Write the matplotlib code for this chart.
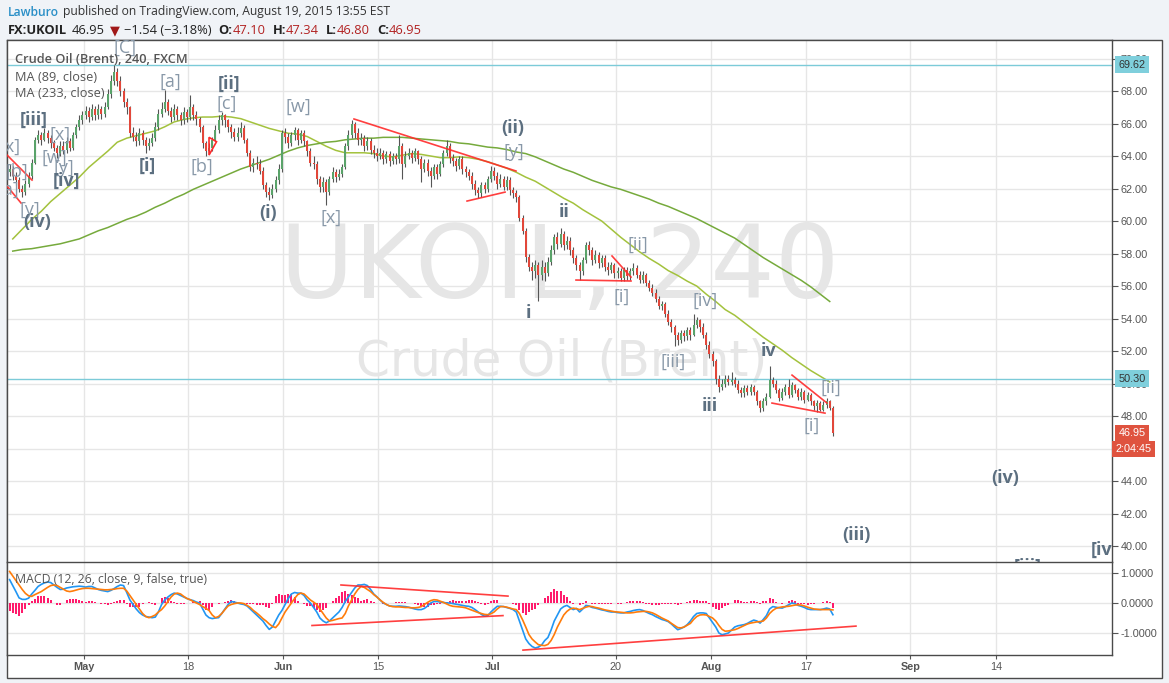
import matplotlib
matplotlib.use("Agg")
import matplotlib.pyplot as plt
import matplotlib.transforms as mtransforms
from matplotlib.patches import Rectangle, Polygon
import numpy as np
import pandas as pd

# ---- data (4h-ish candles, 3 per trading day) ----
first_day = "2015-04-21"
last_day = "2015-08-19"
bars_per_day = 3
first_open = 63.0

bar_close = [
    63.2, 62.8, 62.5, 62.0, 61.8, 62.3, 62.8, 63.6, 65.0, 65.3, 65.0, 65.4,
    65.1, 64.8, 64.5, 64.2, 64.6, 64.4, 64.9, 64.5, 65.3, 65.8, 66.2, 66.5, 66.8, 66.4, 66.9,
    66.5, 66.9, 66.6, 67.0, 67.8, 68.6, 69.2, 68.6, 68.0, 67.3, 67.0, 65.4, 65.2, 64.9, 65.4,
    65.0, 64.6, 64.8, 65.1, 65.8, 66.6, 66.9, 67.3, 66.8, 66.4, 66.9, 66.5, 66.2, 66.7, 66.4,
    67.0, 66.5, 66.3, 65.8, 64.8, 64.3, 64.5, 65.0, 65.6, 66.2, 66.5, 66.2, 65.8, 65.5, 65.2,
    65.4, 65.7, 65.0, 64.2, 63.3, 63.6, 63.5, 63.1, 62.2, 61.8, 61.6, 62.0, 62.5, 63.2, 65.4,
    65.2, 64.8, 65.3, 65.6, 65.0, 65.4, 64.9, 64.3, 63.6, 63.5, 62.6, 62.1, 62.4, 61.8, 62.6,
    63.0, 62.7, 62.9, 63.3, 64.6, 65.3, 66.0, 65.4, 65.0, 65.1, 64.6, 64.9, 64.4, 64.2, 64.0,
    64.2, 63.8, 64.1, 63.7, 64.0, 63.8, 64.6, 63.5, 64.0, 64.2, 63.9, 64.3, 63.8, 63.2, 63.6,
    63.1, 62.8, 63.3, 62.9, 63.5, 64.2, 64.6, 63.9, 63.7, 63.4, 63.8, 63.2, 63.0, 62.8, 62.3,
    61.9, 61.7, 62.2, 62.0, 62.6, 63.1, 62.8, 62.3, 62.6, 62.1, 62.5, 61.9, 61.7, 61.5, 60.2,
    59.4, 57.8, 57.2, 56.9, 57.3, 56.7, 57.2, 56.8, 57.5, 58.2, 59.0, 58.6, 59.2, 58.5, 58.8,
    58.2, 57.7, 57.3, 56.9, 57.6, 58.5, 58.2, 57.6, 57.9, 57.4, 57.7, 57.2, 57.0, 57.3, 56.8,
    56.9, 56.5, 57.0, 56.6, 56.9, 57.1, 56.7, 56.4, 56.7, 56.2, 55.9, 55.6, 55.2, 54.8, 54.9,
    54.3, 53.8, 53.5, 53.0, 52.7, 53.1, 52.9, 53.3, 53.0, 53.6, 53.9, 53.5, 53.0, 52.4, 51.8,
    51.4, 50.3, 49.8, 50.0, 50.3, 50.1, 50.2, 50.0, 49.6, 49.4, 49.7, 49.5, 49.8, 49.5, 48.9,
    48.5, 48.9, 49.2, 50.2, 50.0, 49.6, 49.1, 49.5, 49.8, 49.3, 49.9, 49.6, 49.2, 49.5, 49.0,
    49.3, 48.9, 48.6, 48.8, 48.4, 48.7, 48.9, 48.49, 46.95,
]
bar_high = [
    63.5, 63.4, 63.0, 62.7, 62.2, 62.5, 63.0, 63.8, 65.2, 65.6, 65.5, 65.7,
    65.6, 65.3, 65.0, 64.7, 64.9, 64.9, 65.2, 65.1, 65.5, 66.0, 66.5, 66.8, 67.1, 67.0, 67.2,
    67.1, 67.2, 67.1, 67.3, 68.1, 69.0, 69.6, 69.4, 68.9, 68.2, 67.6, 67.1, 65.8, 65.5, 65.7,
    65.6, 65.2, 65.1, 65.4, 66.1, 66.9, 67.3, 68.05, 67.5, 67.0, 67.2, 67.1, 66.7, 67.0, 66.9,
    67.75, 67.2, 66.8, 66.4, 65.9, 64.9, 64.8, 65.2, 65.9, 66.5, 66.7, 66.6, 66.3, 66.0, 65.7,
    65.8, 66.1, 65.9, 65.1, 64.4, 63.9, 64.0, 63.8, 63.3, 62.4, 62.1, 62.3, 62.8, 63.5, 65.6,
    65.7, 65.4, 65.5, 65.8, 65.7, 65.6, 65.6, 65.0, 64.5, 64.0, 63.7, 62.8, 62.7, 62.6, 62.8,
    63.3, 63.2, 63.2, 63.5, 64.8, 65.6, 66.2, 66.1, 65.7, 65.4, 65.3, 65.2, 65.1, 64.7, 64.5,
    64.5, 64.4, 64.3, 64.3, 64.2, 64.2, 65.3, 64.8, 64.3, 64.5, 64.4, 64.5, 64.4, 64.0, 63.8,
    63.8, 63.3, 63.5, 63.5, 63.7, 64.4, 65.0, 64.8, 64.1, 63.9, 64.0, 64.0, 63.4, 63.2, 63.0,
    62.5, 62.1, 62.4, 62.4, 62.8, 63.4, 63.3, 63.0, 62.9, 62.8, 62.8, 62.7, 62.1, 61.9, 61.6,
    60.4, 59.6, 58.0, 57.5, 57.6, 57.5, 57.6, 57.5, 57.8, 58.5, 59.2, 59.3, 59.6, 59.4, 59.1,
    59.0, 58.4, 57.9, 57.5, 57.8, 58.7, 58.8, 58.4, 58.2, 58.1, 57.9, 57.9, 57.5, 57.5, 57.4,
    57.2, 57.1, 57.2, 57.2, 57.1, 57.4, 57.3, 56.9, 56.9, 56.8, 56.4, 56.1, 55.8, 55.4, 55.1,
    55.0, 54.5, 54.0, 53.6, 53.2, 53.3, 53.3, 53.5, 53.5, 54.3, 54.1, 54.0, 53.7, 53.2, 52.6,
    52.0, 51.5, 50.5, 50.3, 50.5, 50.5, 50.7, 50.4, 50.2, 49.8, 49.9, 49.9, 50.0, 49.9, 49.6,
    49.0, 49.1, 49.4, 51.1, 50.4, 50.2, 49.7, 49.7, 50.0, 50.3, 50.1, 50.0, 49.7, 49.7, 49.6,
    49.5, 49.4, 49.0, 49.0, 48.9, 48.9, 49.1, 49.0, 48.6,
]
bar_low = [
    62.8, 62.5, 62.2, 61.8, 61.5, 61.6, 62.1, 62.6, 63.5, 64.8, 64.7, 64.9,
    64.8, 64.5, 64.3, 63.9, 64.0, 64.1, 64.2, 64.3, 64.4, 65.1, 65.6, 66.0, 66.3, 66.1, 66.2,
    66.2, 66.3, 66.3, 66.4, 66.9, 67.6, 68.4, 68.3, 67.7, 67.0, 66.6, 65.2, 64.9, 64.6, 64.7,
    64.7, 64.2, 64.4, 64.6, 64.9, 65.6, 66.4, 66.7, 66.5, 66.1, 66.2, 66.2, 65.9, 66.0, 66.1,
    66.2, 66.2, 65.9, 65.5, 64.5, 64.0, 64.1, 64.3, 64.9, 65.4, 65.9, 65.8, 65.5, 65.1, 64.9,
    64.9, 65.2, 64.8, 64.0, 63.1, 63.0, 63.2, 62.9, 62.0, 61.5, 61.3, 61.4, 61.8, 62.3, 63.0,
    64.8, 64.5, 64.6, 65.0, 64.7, 64.8, 64.6, 64.0, 63.4, 63.2, 62.3, 61.8, 61.8, 61.0, 61.6,
    62.4, 62.4, 62.5, 62.7, 63.2, 64.4, 65.1, 65.1, 64.7, 64.7, 64.3, 64.4, 64.1, 63.9, 63.7,
    63.8, 63.5, 63.6, 63.4, 63.5, 63.5, 63.6, 62.6, 63.3, 63.8, 63.6, 63.7, 63.5, 62.4, 63.0,
    62.8, 62.1, 62.6, 62.6, 62.8, 63.3, 64.0, 63.6, 63.4, 63.1, 63.2, 62.9, 62.7, 62.5, 62.0,
    61.6, 61.4, 61.5, 61.7, 61.8, 62.4, 62.5, 62.0, 62.1, 61.9, 61.9, 61.6, 61.4, 61.2, 60.0,
    59.2, 57.5, 56.9, 56.4, 56.5, 55.1, 56.4, 56.3, 56.6, 57.3, 58.0, 58.3, 58.4, 58.2, 58.3,
    57.9, 57.4, 57.0, 56.4, 56.7, 57.4, 57.9, 57.3, 57.4, 57.1, 57.2, 56.9, 56.7, 56.8, 56.5,
    56.5, 56.3, 56.3, 56.4, 56.4, 56.7, 56.5, 56.2, 56.2, 56.0, 55.7, 55.4, 55.0, 54.6, 54.5,
    54.1, 53.6, 53.2, 52.3, 52.4, 52.5, 52.6, 52.7, 52.7, 52.9, 53.4, 53.2, 52.8, 52.1, 51.6,
    51.1, 50.0, 49.5, 49.6, 49.8, 49.9, 49.9, 49.8, 49.4, 49.2, 49.2, 49.3, 49.3, 49.3, 48.7,
    48.25, 48.3, 48.7, 49.1, 49.8, 49.4, 48.9, 49.0, 49.3, 49.1, 49.2, 49.4, 49.0, 49.0, 48.8,
    48.9, 48.7, 48.4, 48.25, 48.3, 48.3, 48.5, 48.4, 46.8,
]

# moving averages, one reading per trading day
ma89 = [
    58.9, 59.5, 60.1, 60.6,
    61.2, 61.7, 62.2, 62.7, 63.3, 63.8, 64.3, 64.85, 65.1, 65.25,
    65.4, 65.55, 65.8, 66.1, 66.25, 66.35, 66.4, 66.4, 66.45, 66.4,
    66.3, 66.1, 65.9, 65.7, 65.55, 65.4, 65.35, 65.2, 64.9, 64.6,
    64.35, 64.2, 64.2, 64.2, 64.15, 64.0, 63.95, 64.05, 64.15, 64.1,
    64.0, 63.9, 63.9, 63.95, 63.9, 63.8, 63.65, 63.45, 63.25, 63.0,
    62.7, 62.45, 62.1, 61.75, 61.4, 61.1, 60.7, 60.35, 60.0, 59.5,
    59.0, 58.55, 58.1, 57.7, 57.35, 56.95, 56.65, 56.3, 56.0, 55.5,
    55.05, 54.55, 54.2, 53.75, 53.3, 52.85, 52.45, 52.05, 51.6, 51.2,
    50.8, 50.45, 50.1,
]
ma233 = [
    58.15, 58.25, 58.3, 58.4,
    58.5, 58.6, 58.75, 58.9, 59.15, 59.4, 59.6, 59.85, 60.1, 60.3,
    60.55, 60.85, 61.1, 61.4, 61.65, 61.95, 62.2, 62.45, 62.7, 62.95,
    63.2, 63.4, 63.6, 63.8, 64.05, 64.3, 64.5, 64.65, 64.75, 64.85,
    64.9, 65.0, 65.05, 65.1, 65.1, 65.15, 65.15, 65.15, 65.1, 65.05,
    65.0, 64.95, 64.9, 64.8, 64.75, 64.65, 64.55, 64.5, 64.4, 64.25,
    64.15, 63.95, 63.7, 63.45, 63.2, 63.0, 62.75, 62.5, 62.3, 62.1,
    61.95, 61.75, 61.55, 61.35, 61.1, 60.9, 60.65, 60.4, 60.15, 59.85,
    59.55, 59.25, 58.95, 58.55, 58.15, 57.75, 57.4, 57.05, 56.7, 56.35,
    55.95, 55.5, 55.05,
]

# MACD (12, 26, 9) line and signal, one value per candle
macd_line = [
    0.78, 0.58, 0.38, 0.17, 0.12, 0.12, 0.16, 0.30, 0.42, 0.55, 0.62, 0.67,
    0.70, 0.68, 0.60, 0.52, 0.45, 0.46, 0.50, 0.52, 0.54, 0.55, 0.56, 0.55, 0.53, 0.55, 0.55,
    0.50, 0.45, 0.42, 0.40, 0.38, 0.42, 0.48, 0.55, 0.60, 0.58, 0.35, 0.10, -0.05, -0.20, -0.32,
    -0.40, -0.45, -0.47, -0.49, -0.47, -0.30, -0.05, 0.10, 0.20, 0.28, 0.33, 0.30, 0.25, 0.20, 0.15,
    0.11, 0.08, 0.03, 0.00, -0.20, -0.40, -0.49, -0.52, -0.50, -0.49, -0.35, -0.20, -0.05, 0.05, 0.03,
    0.00, -0.03, -0.05, -0.10, -0.20, -0.30, -0.40, -0.50, -0.60, -0.75, -0.88, -0.80, -0.60, -0.40, -0.25,
    -0.05, 0.15, 0.30, 0.35, 0.33, 0.33, 0.25, 0.10, 0.00, -0.15, -0.30, -0.50, -0.60, -0.66, -0.60,
    -0.50, -0.40, -0.30, -0.15, 0.05, 0.20, 0.35, 0.50, 0.60, 0.60, 0.62, 0.58, 0.45, 0.30, 0.20,
    0.10, 0.00, -0.05, -0.10, -0.11, -0.11, -0.10, -0.11, -0.12, -0.14, -0.17, -0.20, -0.22, -0.22, -0.18,
    -0.10, 0.00, 0.05, 0.05, 0.03, 0.02, 0.00, 0.00, -0.02, -0.04, -0.06, -0.08, -0.10, -0.11, -0.15,
    -0.22, -0.30, -0.38, -0.44, -0.42, -0.30, -0.20, -0.11, -0.11, -0.12, -0.15, -0.18, -0.22, -0.30, -0.60,
    -0.90, -1.20, -1.35, -1.45, -1.50, -1.47, -1.40, -1.25, -1.15, -0.90, -0.60, -0.40, -0.20, -0.12, -0.08,
    -0.15, -0.22, -0.18, -0.30, -0.20, -0.08, -0.10, -0.15, -0.17, -0.20, -0.23, -0.25, -0.28, -0.30, -0.30,
    -0.32, -0.33, -0.33, -0.30, -0.28, -0.25, -0.23, -0.22, -0.25, -0.30, -0.35, -0.39, -0.45, -0.50, -0.55,
    -0.58, -0.62, -0.70, -0.80, -0.89, -0.85, -0.80, -0.72, -0.60, -0.45, -0.35, -0.33, -0.33, -0.35, -0.50,
    -0.65, -0.80, -1.00, -1.06, -1.03, -1.00, -0.90, -0.80, -0.76, -0.74, -0.72, -0.68, -0.62, -0.57, -0.60,
    -0.67, -0.55, -0.42, -0.20, -0.12, -0.14, -0.16, -0.17, -0.12, -0.06, 0.00, -0.02, -0.08, -0.11, -0.15,
    -0.20, -0.22, -0.22, -0.22, -0.22, -0.20, -0.17, -0.20, -0.39,
]
macd_signal = [
    1.05, 0.90, 0.75, 0.60, 0.45, 0.32, 0.24, 0.22, 0.28, 0.33, 0.38, 0.45,
    0.52, 0.58, 0.60, 0.58, 0.52, 0.46, 0.40, 0.38, 0.40, 0.43, 0.46, 0.48, 0.49, 0.49, 0.48,
    0.47, 0.46, 0.45, 0.44, 0.44, 0.45, 0.46, 0.48, 0.49, 0.49, 0.40, 0.25, 0.10, -0.05, -0.20,
    -0.35, -0.45, -0.49, -0.45, -0.40, -0.30, -0.22, -0.10, 0.05, 0.20, 0.30, 0.33, 0.30, 0.22, 0.15,
    0.11, 0.05, 0.00, -0.05, -0.12, -0.18, -0.25, -0.40, -0.49, -0.45, -0.35, -0.22, -0.10, -0.05, -0.02,
    0.00, 0.00, -0.02, -0.08, -0.15, -0.25, -0.33, -0.42, -0.52, -0.60, -0.70, -0.78, -0.82, -0.70, -0.50,
    -0.30, -0.15, 0.00, 0.15, 0.28, 0.33, 0.30, 0.20, 0.10, 0.03, -0.05, -0.20, -0.35, -0.50, -0.60,
    -0.58, -0.55, -0.52, -0.50, -0.35, -0.10, 0.10, 0.30, 0.45, 0.55, 0.52, 0.45, 0.38, 0.28, 0.20,
    0.10, 0.02, -0.05, -0.10, -0.12, -0.13, -0.13, -0.14, -0.15, -0.15, -0.16, -0.16, -0.15, -0.12, -0.05,
    0.02, 0.08, 0.11, 0.10, 0.06, 0.02, -0.03, -0.08, -0.11, -0.12, -0.13, -0.14, -0.16, -0.20, -0.24,
    -0.28, -0.32, -0.35, -0.38, -0.39, -0.36, -0.30, -0.20, -0.12, -0.12, -0.14, -0.17, -0.20, -0.22, -0.35,
    -0.56, -0.80, -1.05, -1.20, -1.30, -1.39, -1.41, -1.42, -1.38, -1.25, -1.05, -0.80, -0.60, -0.40, -0.28,
    -0.20, -0.17, -0.19, -0.22, -0.18, -0.14, -0.11, -0.12, -0.15, -0.17, -0.20, -0.23, -0.25, -0.27, -0.29,
    -0.30, -0.31, -0.32, -0.33, -0.33, -0.32, -0.30, -0.29, -0.28, -0.28, -0.30, -0.33, -0.38, -0.44, -0.50,
    -0.55, -0.60, -0.68, -0.75, -0.82, -0.83, -0.80, -0.74, -0.68, -0.55, -0.45, -0.40, -0.39, -0.40, -0.45,
    -0.50, -0.60, -0.75, -0.88, -0.94, -0.93, -0.91, -0.89, -0.85, -0.80, -0.75, -0.70, -0.67, -0.65, -0.63,
    -0.62, -0.60, -0.50, -0.35, -0.25, -0.18, -0.15, -0.13, -0.12, -0.11, -0.09, -0.07, -0.06, -0.07, -0.10,
    -0.14, -0.17, -0.20, -0.21, -0.22, -0.22, -0.22, -0.22, -0.23,
]

tick_dates = ["2015-05-01", "2015-05-18", "2015-06-01", "2015-06-15", "2015-07-01",
              "2015-07-20", "2015-08-03", "2015-08-17", "2015-09-01", "2015-09-14"]
tick_labels = ["May", "18", "Jun", "15", "Jul", "20", "Aug", "17", "Sep", "14"]
month_labels = {"May", "Jun", "Jul", "Aug", "Sep"}

# horizontal levels drawn by the author
levels = [69.62, 50.30]
last_price = 46.95
countdown = "2:04:45"

# elliott wave labels: text, day index, price, bold
wave_labels = [
    ("[C]", 12.3, 70.65, False), ("[iii]", 2.74, 66.22, True), ("[x]", 0.21, 64.55, False),
    ("[b]", 0.95, 63.02, False), ("[a]", 0.0, 61.9, False), ("[w]", 4.84, 63.88, False),
    ("[x]", 5.47, 65.29, False), ("[y]", 5.9, 63.26, False), ("[iv]", 6.2, 62.46, True),
    ("[y]", 2.32, 60.68, False), ("(iv)", 3.05, 59.94, True), ("[i]", 14.63, 63.38, True),
    ("[a]", 17.05, 68.55, False), ("[ii]", 23.26, 68.43, True), ("[c]", 23.05, 67.2, False),
    ("[b]", 20.42, 63.32, False), ("(i)", 27.37, 60.49, True), ("[w]", 30.53, 67.02, False),
    ("[x]", 34.0, 60.18, False), ("(ii)", 53.16, 65.72, True), ("[y]", 53.26, 64.25, False),
    ("ii", 58.53, 60.55, True), ("i", 54.74, 54.34, True), ("[ii]", 66.32, 58.52, False),
    ("[i]", 64.63, 55.32, False), ("[iv]", 73.37, 55.08, False), ("[iii]", 70.0, 51.32, False),
    ("iii", 73.9, 48.62, True), ("iv", 80.1, 52.0, True), ("[ii]", 86.63, 49.72, False),
    ("[i]", 84.63, 47.38, False), ("(iv)", 104.95, 44.18, True), ("(iii)", 89.26, 40.68, True),
    ("[iv]", 115.4, 39.75, True), ("[iii]", 107.3, 38.75, True),
]

# trend lines: (day, price) -> (day, price)
price_trendlines = [
    ((-0.1, 64.06), (2.53, 62.52)), ((-0.1, 62.15), (1.37, 61.11)),
    ((36.42, 66.28), (53.47, 63.08)), ((48.32, 61.23), (52.32, 61.78)),
    ((59.79, 56.37), (65.58, 56.31)), ((63.58, 57.85), (65.58, 56.55)),
    ((82.53, 50.52), (86.21, 48.8)), ((80.42, 48.8), (86.0, 48.18)),
]
small_triangle = [(21.16, 65.15), (21.95, 64.88), (21.16, 64.06)]
macd_trendlines = [
    ((35.05, 0.6), (52.63, 0.23)), ((32.0, -0.75), (52.1, -0.42)),
    ((54.21, -1.57), (89.26, -0.77)),
]

# ---- figure ----
W, H = 1169, 683
plt.rcParams["font.family"] = ["Liberation Sans", "DejaVu Sans"]
fig = plt.figure(figsize=(W / 100, H / 100), dpi=100, facecolor="#f0f3f7")


def fig_box(x0, y0, x1, y1):
    return [x0 / W, 1 - y1 / H, (x1 - x0) / W, (y1 - y0) / H]


panel = Rectangle((7 / W, 1 - 678 / H), 1155 / W, 638 / H, transform=fig.transFigure,
                  fc="white", ec="#4a4a4a", lw=1, zorder=-5)
fig.patches.append(panel)

ax = fig.add_axes(fig_box(7, 40, 1112, 562))
axm = fig.add_axes(fig_box(7, 562, 1112, 655), sharex=ax)

n = min(len(bar_close), len(bar_high), len(bar_low), len(macd_line), len(macd_signal))
closes = np.array(bar_close[:n])
highs = np.array(bar_high[:n])
lows = np.array(bar_low[:n])
opens = np.r_[first_open, closes[:-1]]
bar_x = np.arange(n) / bars_per_day + 0.5 / bars_per_day

axis_days = pd.bdate_range(first_day, "2015-10-30")
tick_pos = [axis_days.get_loc(pd.Timestamp(d)) for d in tick_dates]

up = closes >= opens
body_col = np.where(up, "#5aa36a", "#e2473a")

# candles
ax.vlines(bar_x, lows, highs, color="#555555", lw=0.8, zorder=3)
ax.bar(bar_x, np.maximum(np.abs(closes - opens), 0.05), bottom=np.minimum(opens, closes),
       width=0.2, color=body_col, zorder=4)

ax.plot(np.arange(len(ma89)) + 0.5, ma89, color="#a3c23d", lw=1.1, zorder=2)
ax.plot(np.arange(len(ma233)) + 0.5, ma233, color="#76aa3c", lw=1.1, zorder=2)

for lv in levels:
    ax.axhline(lv, color="#7ccbd8", lw=1, zorder=2)

for (x0, y0), (x1, y1) in price_trendlines:
    ax.plot([x0, x1], [y0, y1], color="#ff2a2a", lw=1.2, alpha=0.9, zorder=5)
ax.add_patch(Polygon(small_triangle, closed=True, fill=False, ec="#ff2a2a", lw=1.2, zorder=5))

for txt, x, y, bold in wave_labels:
    ax.text(x, y, txt, ha="center", va="center", fontsize=13,
            fontweight="bold" if bold else "normal",
            color="#5c6f80" if bold else "#8898a8",
            family=["Open Sans", "DejaVu Sans"], zorder=6, clip_on=True)

# watermark
ax.text(0.5005, 0.559, "UKOIL, 240", transform=ax.transAxes, ha="center", va="center",
        fontsize=73, color="#e6e6e6", family="DejaVu Sans", zorder=0)
ax.text(0.5015, 0.385, "Crude Oil (Brent)", transform=ax.transAxes, ha="center", va="center",
        fontsize=35, color="#e6e6e6", family="DejaVu Sans", zorder=0)

# legend texts
ax.text(0.0072, 0.9617, "Crude Oil (Brent), 240, FXCM", transform=ax.transAxes, va="center",
        fontsize=9.2, fontweight="semibold", color="#555555", family="Open Sans", zorder=7)
ax.text(0.0072, 0.929, "MA (89, close)", transform=ax.transAxes, va="center",
        fontsize=9.2, color="#555555", family="Open Sans", zorder=7)
ax.text(0.0072, 0.8966, "MA (233, close)", transform=ax.transAxes, va="center",
        fontsize=9.2, color="#555555", family="Open Sans", zorder=7)

# price axis
ax.set_xlim(-0.105, -0.105 + 1105 / 9.5)
ax.set_ylim(39.02, 71.14)
price_ticks = np.arange(40, 71, 2)
ax.set_yticks(price_ticks)
ax.set_yticklabels([f"{v:.2f}" for v in price_ticks])
ax.yaxis.tick_right()
ax.tick_params(axis="y", length=4, color="#555555", labelsize=7.8, labelcolor="#555555", pad=2)
ax.tick_params(axis="x", length=0, labelbottom=False)
ax.set_xticks(tick_pos)
ax.grid(True, color="#e6e6e6", lw=1)
ax.set_axisbelow(True)

blend = mtransforms.blended_transform_factory(ax.transAxes, ax.transData)
for lv in levels:
    ax.text(1.006, lv, f"{lv:.2f}", transform=blend, ha="left", va="center", fontsize=7.8,
            color="#333333", clip_on=False, zorder=8,
            bbox=dict(boxstyle="square,pad=0.3", fc="#7fcfdc", ec="none"))
ax.text(1.006, last_price, f"{last_price:.2f}", transform=blend, ha="left", va="center",
        fontsize=7.8, color="white", clip_on=False, zorder=8,
        bbox=dict(boxstyle="square,pad=0.3", fc="#df533f", ec="none"))
ax.text(1.003, last_price - 0.98, countdown, transform=blend, ha="left", va="center",
        fontsize=7.8, color="white", clip_on=False, zorder=8,
        bbox=dict(boxstyle="square,pad=0.3", fc="#df533f", ec="none"))

# ---- MACD pane ----
hist = np.array(macd_line[:n]) - np.array(macd_signal[:n])
axm.bar(bar_x, hist, width=0.2, color="#ff1b6c", zorder=2)
axm.plot(bar_x, macd_line[:n], color="#2196f3", lw=1.2, zorder=3)
axm.plot(bar_x, macd_signal[:n], color="#ff7c0a", lw=1.2, zorder=3)
for (x0, y0), (x1, y1) in macd_trendlines:
    axm.plot([x0, x1], [y0, y1], color="#ff2a2a", lw=1.2, alpha=0.9, zorder=4)
axm.text(0.0072, 0.81, "MACD (12, 26, close, 9, false, true)", transform=axm.transAxes,
         va="center", fontsize=8.8, color="#555555", family="Open Sans", zorder=5)

axm.set_ylim(-1.733, 1.366)
macd_ticks = [-1.0, 0.0, 1.0]
axm.set_yticks(macd_ticks)
axm.set_yticklabels([f"{v:.4f}" for v in macd_ticks])
axm.yaxis.tick_right()
axm.tick_params(axis="y", length=4, color="#555555", labelsize=7.8, labelcolor="#555555", pad=2)
axm.set_xticks(tick_pos)
axm.set_xticklabels(tick_labels)
axm.tick_params(axis="x", length=3, color="#555555", labelsize=7.8, labelcolor="#555555", pad=2)
for lab in axm.get_xticklabels():
    if lab.get_text() in month_labels:
        lab.set_fontweight("bold")
axm.grid(True, color="#e6e6e6", lw=1)
axm.set_axisbelow(True)

for a in (ax, axm):
    for s in a.spines.values():
        s.set_color("#4a4a4a")
        s.set_linewidth(1)
# the pane separator is drawn by the MACD pane (it sits on top of the price pane)
ax.spines["bottom"].set_visible(False)
axm.spines["top"].set_zorder(10)

# ---- header ----
renderer = fig.canvas.get_renderer()


def header_line(y, pieces, size):
    x = 8 / W
    for txt, color, weight, gap in pieces:
        t = fig.text(x, y, txt, color=color, fontsize=size, fontweight=weight, va="center",
                     ha="left", family=["Open Sans", "DejaVu Sans"])
        x += (t.get_window_extent(renderer).width + gap) / W


header_line(1 - 12 / H, [("Lawburo", "#2a8fc7", "semibold", 4),
                         ("published on TradingView.com, August 19, 2015 13:55 EST", "#333333", "normal", 0)], 8.7)
dark, red = "#222222", "#b22222"
header_line(1 - 31 / H, [("FX:UKOIL", dark, "bold", 5), ("46.95", dark, "normal", 5),
                         ("\u25bc", "#a01818", "normal", 4), ("\u22121.54 (\u22123.18%)", dark, "normal", 7),
                         ("O:", dark, "bold", 0), ("47.10", red, "normal", 7),
                         ("H:", dark, "bold", 0), ("47.34", red, "normal", 7),
                         ("L:", dark, "bold", 0), ("46.80", red, "normal", 7),
                         ("C:", dark, "bold", 0), ("46.95", red, "normal", 0)], 9.3)

fig.savefig("out.png", dpi=100, facecolor=fig.get_facecolor())
